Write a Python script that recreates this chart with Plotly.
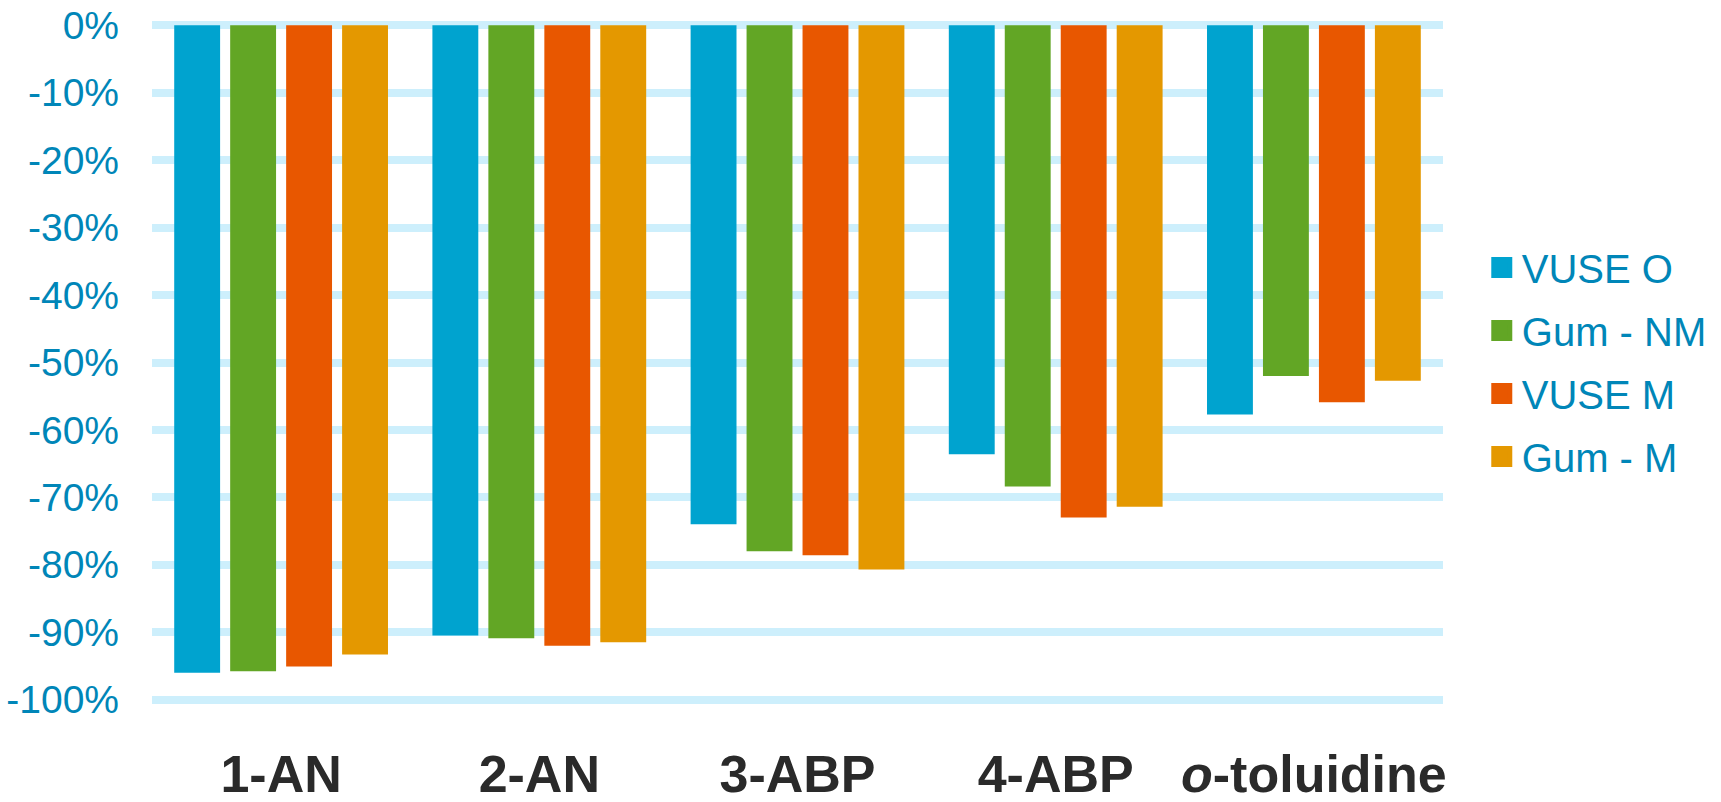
import plotly.graph_objects as go

# Percentage change per compound and product
categories = ["1-AN", "2-AN", "3-ABP", "4-ABP", "<i>o</i>-toluidine"]
series_names = ["VUSE O", "Gum - NM", "VUSE M", "Gum - M"]
vuse_o = [-96.0, -90.5, -74.0, -63.6, -57.7]
gum_nm = [-95.8, -90.9, -78.0, -68.4, -52.0]
vuse_m = [-95.1, -92.0, -78.6, -73.0, -55.9]
gum_m = [-93.3, -91.5, -80.7, -71.4, -52.7]
tick_values = [0, -10, -20, -30, -40, -50, -60, -70, -80, -90, -100]
tick_labels = [f"{v}%" for v in tick_values]

series_values = [vuse_o, gum_nm, vuse_m, gum_m]
colors = ["#00A3CF", "#62A625", "#E85700", "#E49800"]

fig = go.Figure()
for name, vals, col in zip(series_names, series_values, colors):
    fig.add_trace(go.Bar(
        x=categories, y=vals, name=name, legendgroup=name,
        marker=dict(color=col, line=dict(width=0)),
        showlegend=False,
    ))
    # larger square swatch for the legend entry
    fig.add_trace(go.Scatter(
        x=[None], y=[None], mode="markers", name=name, legendgroup=name,
        marker=dict(symbol="square", size=16, color=col,
                    line=dict(color=col, width=5)),
        showlegend=True,
    ))

grid_col = "#CDEFFC"
fig.update_layout(
    width=1721, height=802,
    margin=dict(l=152, r=278, t=24, b=101, autoexpand=False),
    paper_bgcolor="white", plot_bgcolor="white",
    barmode="group", bargap=0.133, bargroupgap=0.18,
    font=dict(family="Liberation Sans, Arial, sans-serif"),
    legend=dict(
        xref="container", yref="container",
        x=0.861, y=0.5486, xanchor="left", yanchor="middle",
        font=dict(size=40, color="#0086B8"),
        itemwidth=30, bgcolor="rgba(0,0,0,0)",
        tracegroupgap=8,
    ),
    xaxis=dict(
        automargin=False,
        showgrid=False, showline=False, zeroline=False,
        tickfont=dict(size=52, color="#2A2A2A", weight="bold"),
        ticklabelstandoff=38,
    ),
    yaxis=dict(
        automargin=False,
        range=[-100.2, 0.2],
        tickvals=tick_values, ticktext=tick_labels,
        showgrid=True, gridcolor=grid_col, gridwidth=8,
        zeroline=True, zerolinecolor=grid_col, zerolinewidth=8,
        showline=False,
        tickfont=dict(size=39, color="#0086B8"),
        ticklabelstandoff=32,
    ),
)

fig.write_html("out.html")
